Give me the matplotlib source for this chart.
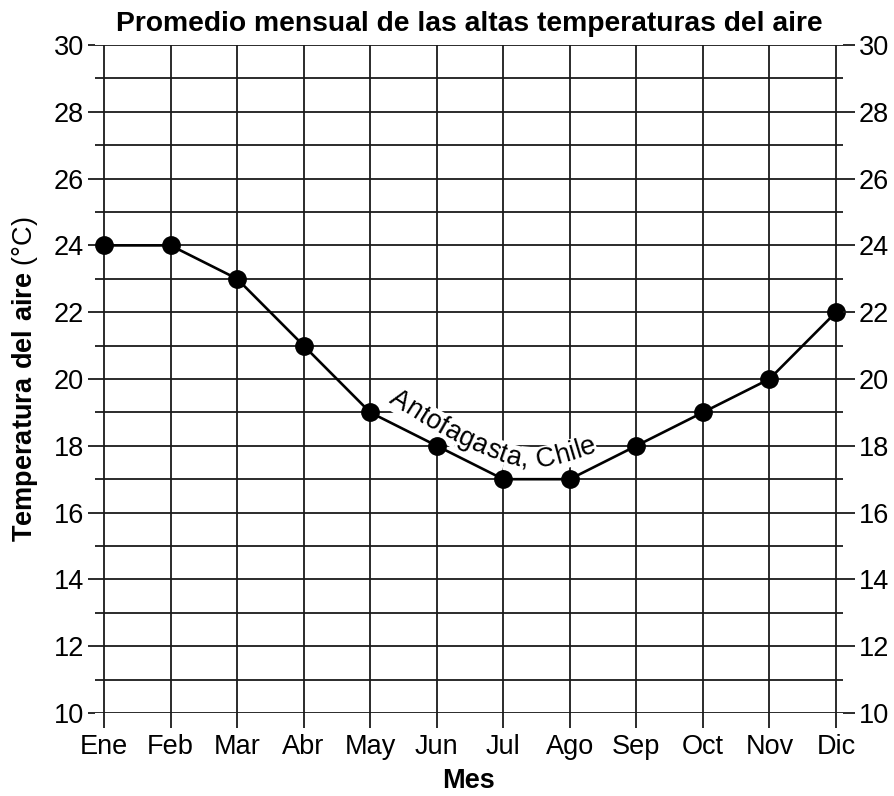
import matplotlib
matplotlib.use("Agg")
import matplotlib.pyplot as plt
from matplotlib.textpath import TextToPath
from matplotlib.font_manager import FontProperties
import numpy as np

meses = ["Ene", "Feb", "Mar", "Abr", "May", "Jun", "Jul", "Ago", "Sep", "Oct", "Nov", "Dic"]
temperaturas = [24, 24, 23, 21, 19, 18, 17, 17, 18, 19, 20, 22]
ticks_y = [10, 12, 14, 16, 18, 20, 22, 24, 26, 28, 30]
etiqueta = "Antofagasta, Chile"
# path followed by the curved label (data coords)
curva_x = [4.33, 4.90, 5.35, 5.80, 6.18, 6.51, 6.85, 7.30]
curva_y = [19.49, 18.77, 18.26, 17.87, 17.60, 17.54, 17.69, 17.96]

plt.rcParams['font.family'] = ['Liberation Sans', 'DejaVu Sans']
plt.rcParams['mathtext.fontset'] = 'custom'
plt.rcParams['mathtext.bf'] = 'Liberation Sans:bold'
plt.rcParams['mathtext.rm'] = 'Liberation Sans'

DPI = 100
fig = plt.figure(figsize=(8.94, 7.96), dpi=DPI)
W, H = 894, 796
ax = fig.add_axes([95 / W, (H - 713) / H, (843 - 95) / W, (713 - 45) / H])

x = np.arange(len(meses))
ax.set_xlim(-0.135, 11.105)
ax.set_ylim(10, 30)

fs = 19.5
gc = '#1a1a1a'
ax.set_xticks(x)
ax.set_xticklabels(meses, fontsize=fs)
ax.set_yticks(ticks_y)
ax.set_yticks(np.arange(11, 30, 2), minor=True)
ax.tick_params(axis='x', length=11, width=1.3, color=gc, pad=4)
ax.tick_params(axis='y', which='major', length=5, width=1.3, color=gc, pad=3,
               labelsize=fs)
ax.tick_params(axis='y', which='minor', length=0)

# right axis with longer ticks
ax2 = ax.twinx()
ax2.set_ylim(10, 30)
ax2.set_yticks(ticks_y)
ax2.tick_params(axis='y', length=8.6, width=1.3, color=gc, pad=3, labelsize=fs)

for a in (ax, ax2):
    for s in a.spines.values():
        s.set_visible(False)

ax.grid(True, which='major', axis='both', color=gc, linewidth=1.3)
ax.grid(True, which='minor', axis='y', color=gc, linewidth=1.3)
ax.set_axisbelow(True)

ax.plot(x, temperaturas, color='black', linewidth=1.9, marker='o',
        markersize=12.5, zorder=3, clip_on=False)

ax.set_title("Promedio mensual de las altas temperaturas del aire",
             fontsize=20.3, fontweight='bold', pad=10)
ax.set_xlabel("Mes", fontsize=fs, fontweight='bold', labelpad=6)
ax.set_ylabel(r"$\mathbf{Temperatura\ del\ aire}$ (°C)", fontsize=fs, labelpad=10)

# curved label along a path
prop = FontProperties(family='Liberation Sans', size=fs)
t2p = TextToPath()
def ancho(s):
    if not s:
        return 0.0
    w, h, d = t2p.get_text_width_height_descent(s, prop, ismath=False)
    return w * DPI / 72.0

pts = ax.transData.transform(np.column_stack([curva_x, curva_y]))
seg = np.hypot(np.diff(pts[:, 0]), np.diff(pts[:, 1]))
arc = np.concatenate([[0], np.cumsum(seg)])
inv = ax.transData.inverted()
for i, ch in enumerate(etiqueta):
    if ch == ' ':
        continue
    s = (ancho(etiqueta[:i]) + ancho(etiqueta[:i + 1])) / 2.0
    px = np.interp(s, arc, pts[:, 0])
    py = np.interp(s, arc, pts[:, 1])
    ds = 8
    px1 = np.interp(max(s - ds, 0), arc, pts[:, 0]); py1 = np.interp(max(s - ds, 0), arc, pts[:, 1])
    px2 = np.interp(min(s + ds, arc[-1]), arc, pts[:, 0]); py2 = np.interp(min(s + ds, arc[-1]), arc, pts[:, 1])
    ang = np.degrees(np.arctan2(py2 - py1, px2 - px1))
    dx, dy = inv.transform((px, py))
    ax.text(dx, dy, ch, fontsize=fs, rotation=ang, rotation_mode='anchor',
            ha='center', va='center', zorder=2.5,
            bbox=dict(facecolor='white', edgecolor='none', pad=0.3))

fig.savefig("out.png", dpi=DPI)
